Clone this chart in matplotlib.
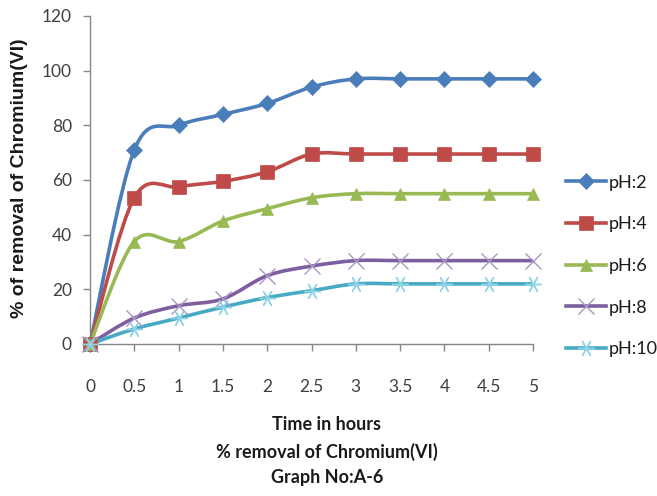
import matplotlib
matplotlib.use("Agg")
import matplotlib.pyplot as plt
from matplotlib.path import Path
from matplotlib.patches import PathPatch
import numpy as np

# ---- data ----
TIME_H = [0, 0.5, 1, 1.5, 2, 2.5, 3, 3.5, 4, 4.5, 5]
PH2 = [0, 71, 80, 84, 88, 94, 97, 97, 97, 97, 97]
PH4 = [0, 53.5, 57.5, 59.5, 63, 69.5, 69.5, 69.5, 69.5, 69.5, 69.5]
PH6 = [0, 37.5, 37.5, 45, 49.5, 53.5, 55, 55, 55, 55, 55]
PH8 = [0, 9.5, 14, 16.5, 25, 28.5, 30.5, 30.5, 30.5, 30.5, 30.5]
PH10 = [0, 5.5, 9.5, 13.5, 17, 19.5, 22, 22, 22, 22, 22]

ASTERISK = (6, 2, 90)
SERIES = {
    'pH:2': (PH2, '#4A7EBB', '#4A7EBB', 'D', 8),
    'pH:4': (PH4, '#BE4B48', '#BE4B48', 's', 10),
    'pH:6': (PH6, '#98B954', '#98B954', '^', 9),
    'pH:8': (PH8, '#7D5FA0', '#A996C4', 'x', 11),
    'pH:10': (PH10, '#46AAC5', '#8FD3E6', ASTERISK, 12),
}

plt.rcParams['font.family'] = ['Lato', 'DejaVu Sans']


def smooth_path(x, y):
    """Excel-like smoothed line: cubic Bezier through the points (Catmull-Rom)."""
    pts = np.column_stack([x, y]).astype(float)
    n = len(pts)
    verts = [pts[0]]
    codes = [Path.MOVETO]
    for i in range(n - 1):
        p0 = pts[i - 1] if i > 0 else pts[i]
        p1, p2 = pts[i], pts[i + 1]
        p3 = pts[i + 2] if i + 2 < n else pts[i + 1]
        c1 = p1 + (p2 - p0) / 6.0
        c2 = p2 - (p3 - p1) / 6.0
        verts += [c1, c2, p2]
        codes += [Path.CURVE4] * 3
    return Path(verts, codes)


def marker_style(marker, mcolor):
    thin = marker == 'x' or isinstance(marker, tuple)
    return dict(marker=marker, mfc=mcolor, mec=mcolor, mew=1.0 if thin else 0.5)


fig = plt.figure(figsize=(6.57, 4.96), dpi=100)
ax = fig.add_axes([90 / 657, 1 - 344 / 496, (533 - 90) / 657, (344 - 16) / 496])

handles = []
for label, (vals, color, mcolor, marker, ms) in SERIES.items():
    patch = PathPatch(smooth_path(TIME_H, vals), facecolor='none', edgecolor=color,
                      lw=2.6, transform=ax.transData, clip_on=False, zorder=2)
    ax.add_patch(patch)
    ax.plot(TIME_H, vals, linestyle='none', ms=ms, clip_on=False, zorder=3,
            **marker_style(marker, mcolor))
    h, = ax.plot([], [], linestyle='-', lw=2.6, color=color, ms=ms,
                 **marker_style(marker, mcolor), label=label)
    handles.append(h)

ax.set_xlim(0, 5)
ax.set_ylim(0, 120)
ax.set_xticks(TIME_H)
ax.set_xticklabels(['0', '0.5', '1', '1.5', '2', '2.5', '3', '3.5', '4', '4.5', '5'])
ax.set_yticks([0, 20, 40, 60, 80, 100, 120])
ax.tick_params(axis='both', labelsize=12.5, labelcolor='#404040', color='#868686',
               length=5, width=1, pad=8)
ax.tick_params(axis='x', pad=20)
for s in ('top', 'right'):
    ax.spines[s].set_visible(False)
for s in ('left', 'bottom'):
    ax.spines[s].set_color('#868686')
    ax.spines[s].set_linewidth(1)

ax.set_ylabel('% of removal of Chromium(VI)', fontsize=14, fontweight='bold',
              family=['Liberation Sans', 'DejaVu Sans'], color='#1a1a1a')
ax.yaxis.set_label_coords(-0.14, 0.506)

for ypix, txt in [(425, 'Time in hours'), (452, '% removal of Chromium(VI)'), (478, 'Graph No:A-6')]:
    fig.text(327 / 657, 1 - ypix / 496, txt, ha='center', va='center', fontsize=13,
             fontweight='bold', color='#1a1a1a')

fig.legend(handles=handles, loc='center left', bbox_to_anchor=(566 / 657, 1 - 266 / 496),
           frameon=False, fontsize=13, labelspacing=1.42, handlelength=2.2, handletextpad=0.15,
           labelcolor='#1a1a1a', borderaxespad=0, borderpad=0)

fig.savefig('out.png', dpi=100)
